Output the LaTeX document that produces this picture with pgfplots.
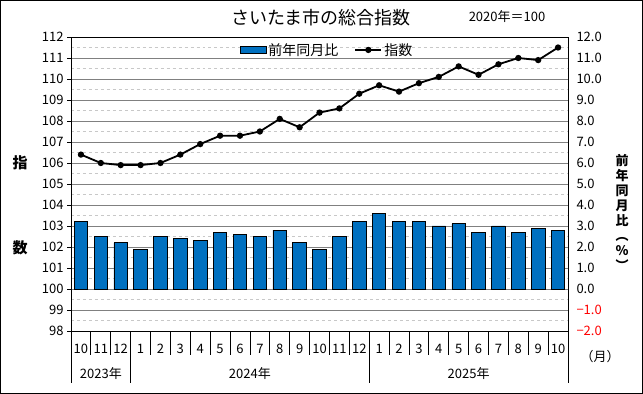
\documentclass[border=0pt]{standalone}
\usepackage{pgfplots}
\pgfplotsset{compat=1.18}
\usepackage{pgfplotstable}
\usepackage{fontspec}
\setmainfont{Noto Sans CJK JP}
\definecolor{barblue}{HTML}{0070C0}
\definecolor{majgrid}{HTML}{808080}
\definecolor{mingrid}{HTML}{C8C8C8}

\pgfplotsset{
  linelegend/.style={legend image code/.code={\draw[mark repeat=2,mark phase=2,##1] plot coordinates {(0bp,0bp)(13bp,0bp)(26bp,0bp)};}},
  barlegend/.style={legend image code/.code={\draw[fill=barblue, draw=black, line width=0.8bp] (0bp,-3.5bp) rectangle (26bp,3.5bp);}},
}

\pgfplotstableread{
x yoy idx
0 3.2 106.4
1 2.5 106.0
2 2.2 105.9
3 1.9 105.9
4 2.5 106.0
5 2.4 106.4
6 2.3 106.9
7 2.7 107.3
8 2.6 107.3
9 2.5 107.5
10 2.8 108.1
11 2.2 107.7
12 1.9 108.4
13 2.5 108.6
14 3.2 109.3
15 3.6 109.7
16 3.2 109.4
17 3.2 109.8
18 3.0 110.1
19 3.1 110.6
20 2.7 110.2
21 3.0 110.7
22 2.7 111.0
23 2.9 110.9
24 2.8 111.5
}\datatable

\newcommand{\tickfont}{\fontsize{13bp}{15bp}\selectfont}

\begin{document}
\begin{tikzpicture}
\useasboundingbox (0bp,0bp) rectangle (643bp,394bp);
\draw[line width=1bp] (0.5bp,0.5bp) rectangle (642.5bp,393.5bp);

% bars axis (right y axis)
\begin{axis}[
  at={(71bp,63bp)}, anchor=south west,
  width=497bp, height=294bp, scale only axis,
  xmin=-0.5, xmax=24.5, ymin=-2, ymax=12,
  clip=false,
  axis line style={black, line width=0.8bp},
  ytick={-2,...,12},
  yticklabels={\textcolor{red}{−2.0},\textcolor{red}{−1.0},0.0,1.0,2.0,3.0,4.0,5.0,6.0,7.0,8.0,9.0,10.0,11.0,12.0},
  yticklabel pos=right,
  yticklabel style={anchor=west, xshift=5bp},
  minor ytick={-1.5,-0.5,...,11.5},
  ymajorgrids, yminorgrids,
  major grid style={majgrid, line width=0.8bp},
  minor grid style={mingrid, dashed, line width=0.6bp},
  major tick length=0pt, minor tick length=0pt,
  xtick={0,...,24},
  xticklabels={10,11,12,1,2,3,4,5,6,7,8,9,10,11,12,1,2,3,4,5,6,7,8,9,10},
  xticklabel style={anchor=base, yshift=-22bp},
  tick label style={font=\tickfont},
  /pgf/number format/assume math mode=true,
]
\addplot[ybar, bar width=13.5bp, fill=barblue, draw=black, line width=0.8bp] table[x=x,y=yoy] {\datatable};
% category separators
\pgfplotsinvokeforeach{0.5,1.5,3.5,4.5,5.5,6.5,7.5,8.5,9.5,10.5,11.5,12.5,13.5,15.5,16.5,17.5,18.5,19.5,20.5,21.5,22.5,23.5}{
  \draw[black, line width=0.8bp] (axis cs:#1,-2) -- ++(0bp,-24bp);
}
\pgfplotsinvokeforeach{-0.5,2.5,14.5,24.5}{
  \draw[black, line width=0.8bp] (axis cs:#1,-2) -- ++(0bp,-52bp);
}
\node[font=\tickfont, anchor=center] at ([yshift=-43bp]axis cs:1,-2) {2023年};
\node[font=\tickfont, anchor=center] at ([yshift=-43bp]axis cs:8.5,-2) {2024年};
\node[font=\tickfont, anchor=center] at ([yshift=-43bp]axis cs:19.5,-2) {2025年};
\end{axis}

% line axis (left y axis)
\begin{axis}[
  at={(71bp,63bp)}, anchor=south west,
  width=497bp, height=294bp, scale only axis,
  xmin=-0.5, xmax=24.5, ymin=98, ymax=112,
  hide x axis,
  axis y line*=left,
  axis line style={black, line width=0.8bp},
  ytick={98,...,112},
  tick align=outside,
  major tick length=4bp,
  ytick style={black, line width=0.8bp},
  yticklabel style={anchor=east, xshift=0bp},
  tick label style={font=\tickfont},
  /pgf/number format/assume math mode=true,
  legend style={at={(0.515,0.956)}, anchor=center, draw=none, fill=none,
    font=\fontsize{14bp}{16bp}\selectfont, legend columns=2,
    /tikz/every even column/.append style={column sep=14bp},
    inner sep=0pt},
]
\addlegendimage{barlegend}
\addlegendentry{前年同月比}
\addplot[black, line width=1.8bp, mark=*, mark size=2.2bp, linelegend]
  table[x=x,y=idx] {\datatable};
\addlegendentry{指数}
\end{axis}

% titles and labels
\node[font=\fontsize{18bp}{20bp}\selectfont] at (321bp,376bp) {さいたま市の総合指数};
\node[font=\fontsize{13bp}{15bp}\selectfont] at (507bp,377bp) {2020年＝100};
\node[font=\fontsize{15bp}{17bp}\selectfont\bfseries] at (20bp,231bp) {指};
\node[font=\fontsize{15bp}{17bp}\selectfont\bfseries] at (20bp,146bp) {数};
\node[font=\fontsize{13bp}{15bp}\selectfont\bfseries, inner sep=0pt, align=center] at (622bp,181.5bp) {前\\年\\同\\月\\比\\︵\\％\\︶};
\node[font=\tickfont] at (600bp,37bp) {（月）};
\end{tikzpicture}
\end{document}
